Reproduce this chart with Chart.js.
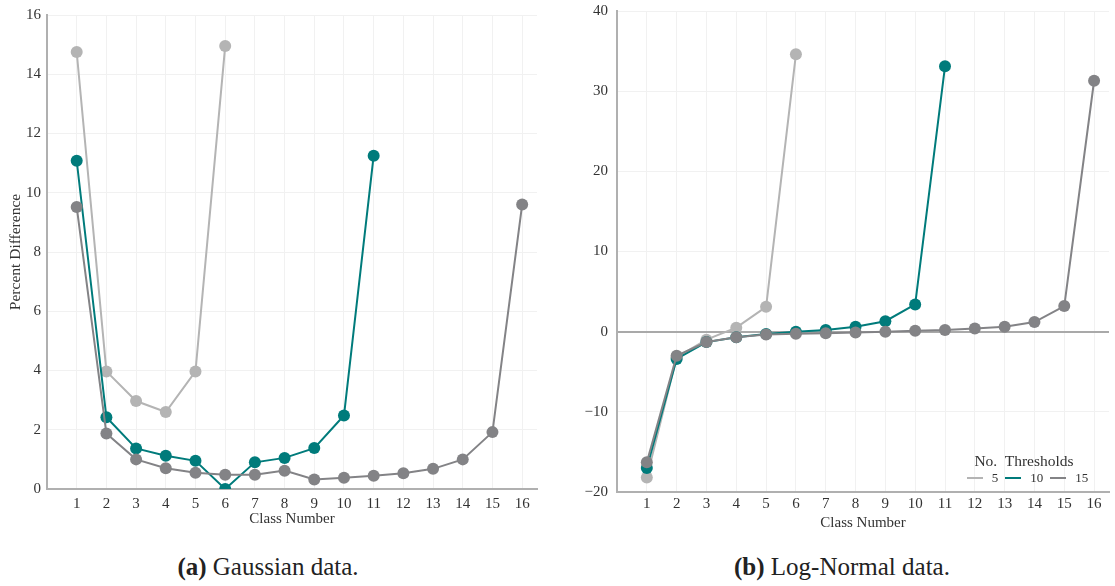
<!DOCTYPE html>
<html>
<head>
<meta charset="utf-8">
<script src="https://cdn.jsdelivr.net/npm/chart.js@4.4.0/dist/chart.umd.min.js"></script>
<style>
  body { margin: 0; background: #fff; width: 1115px; height: 586px; position: relative; overflow: hidden; }
  .box { position: absolute; }
  .cap { position: absolute; font-family: "Liberation Serif", serif; font-size: 25px; color: #222; white-space: nowrap; text-align: center; width: 400px; }
  #legend { position: absolute; font-family: "Liberation Serif", serif; color: #333; text-align: center; }
  #legend .title { font-size: 15.5px; line-height: 18px; }
  #legend .row { font-size: 13px; line-height: 15px; display: flex; align-items: center; justify-content: center; }
  #legend .row span.sw { display: inline-block; width: 16px; height: 2px; margin: 0 9px 0 7px; }
</style>
</head>
<body>
<div class="box" style="left:0;top:0;width:545px;height:528px"><canvas id="gaussChart"></canvas></div>
<div class="box" style="left:560px;top:-7px;width:555px;height:539px"><canvas id="logChart"></canvas></div>
<div id="legend" style="left:944px;top:452px;width:160px"></div>
<div class="cap" style="left:68px;top:553px"><b>(a)</b> Gaussian data.</div>
<div class="cap" style="left:642px;top:553px"><b>(b)</b> Log-Normal data.</div>
<script>
// Số lớp trên trục x và số ngưỡng (legend)
const classNumbers = [1, 2, 3, 4, 5, 6, 7, 8, 9, 10, 11, 12, 13, 14, 15, 16];
const thresholds = ['5', '10', '15'];
const colors = ['#b4b4b4', '#007b7b', '#838386'];

// Dữ liệu Gaussian (lớp 1..n)
const gauss5 = [14.75, 3.97, 2.97, 2.6, 3.97, 14.95];
const gauss10 = [11.08, 2.42, 1.37, 1.12, 0.95, 0.0, 0.9, 1.05, 1.38, 2.48, 11.25];
const gauss15 = [9.52, 1.87, 1.0, 0.7, 0.55, 0.48, 0.48, 0.62, 0.32, 0.38, 0.45, 0.53, 0.68, 1.0, 1.92, 9.6];

// Dữ liệu Log-Normal
const logn5 = [-18.2, -3.2, -1.0, 0.5, 3.1, 34.6];
const logn10 = [-17.0, -3.4, -1.3, -0.7, -0.3, 0.0, 0.2, 0.6, 1.3, 3.4, 33.1];
const logn15 = [-16.3, -3.0, -1.3, -0.7, -0.35, -0.25, -0.2, -0.1, 0.0, 0.1, 0.2, 0.4, 0.6, 1.2, 3.2, 31.3];

const FONT = "'Liberation Serif', serif";
const AXIS_COLOR = '#b0b0b0';
const GRID_COLOR = '#f1f1f1';

function toPoints(values) {
    return values.map((v, i) => ({ x: classNumbers[i], y: v }));
}

function makeDatasets(series) {
    return series.map((vals, i) => ({
        label: thresholds[i],
        data: toPoints(vals),
        borderColor: colors[i],
        backgroundColor: colors[i],
        borderWidth: 2,
        pointRadius: 6,
        pointHoverRadius: 6,
        pointBorderWidth: 0,
        order: series.length - i
    }));
}

function minusSign(v) {
    return String(v).replace('-', '\u2212');
}

function initChart(id, series, opts) {
    const ctx = document.getElementById(id);
    return new Chart(ctx, {
        type: 'line',
        data: { datasets: makeDatasets(series) },
        options: {
            responsive: true,
            maintainAspectRatio: false,
            animation: false,
            layout: { padding: opts.padding },
            plugins: { legend: { display: false }, tooltip: { enabled: false } },
            scales: {
                x: {
                    type: 'linear',
                    min: 0,
                    max: 16.5,
                    afterBuildTicks: s => { s.ticks = classNumbers.map(v => ({ value: v })); },
                    afterFit: s => { s.height = opts.xHeight; },
                    ticks: { autoSkip: false, color: '#333', padding: opts.xPad, font: { family: FONT, size: 15 } },
                    grid: { color: GRID_COLOR, drawTicks: false },
                    border: { display: true, color: AXIS_COLOR, width: 2 },
                    title: { display: true, text: 'Class Number', color: '#333', padding: { top: 0, bottom: 0 }, font: { family: FONT, size: 15 } }
                },
                y: {
                    min: opts.min,
                    max: opts.max,
                    afterFit: s => { s.width = opts.yWidth; },
                    ticks: { stepSize: opts.step, color: '#333', padding: opts.tickPad, font: { family: FONT, size: 15 }, callback: v => minusSign(v) },
                    grid: {
                        drawTicks: false,
                        color: c => (opts.zeroLine && c.tick && c.tick.value === 0) ? '#a9a9a9' : GRID_COLOR,
                        lineWidth: c => (opts.zeroLine && c.tick && c.tick.value === 0) ? 2 : 1
                    },
                    border: { display: true, color: AXIS_COLOR, width: 2 },
                    title: { display: opts.title !== '', text: opts.title, color: '#333', padding: { top: 0, bottom: 0 }, font: { family: FONT, size: 15.5 } }
                }
            }
        }
    });
}

initChart('gaussChart', [gauss5, gauss10, gauss15], {
    min: 0, max: 16, step: 2, title: 'Percent Difference', zeroLine: false,
    yWidth: 40, xHeight: 39, xPad: 6, tickPad: 6, padding: { left: 7, top: 14, right: 8, bottom: 0 }
});

initChart('logChart', [logn5, logn10, logn15], {
    min: -20, max: 40, step: 10, title: '', zeroLine: true,
    yWidth: 57, xHeight: 40, xPad: 3, tickPad: 9, padding: { left: 0, top: 3, right: 3, bottom: 0 }
});

// Legend HTML
const legend = document.getElementById('legend');
let html = '<div class="title">No.&nbsp; Thresholds</div><div class="row">';
thresholds.forEach((t, i) => {
    html += '<span class="sw" style="background:' + colors[i] + '"></span><span>' + t + '</span>';
});
legend.innerHTML = html + '</div>';
</script>
</body>
</html>
